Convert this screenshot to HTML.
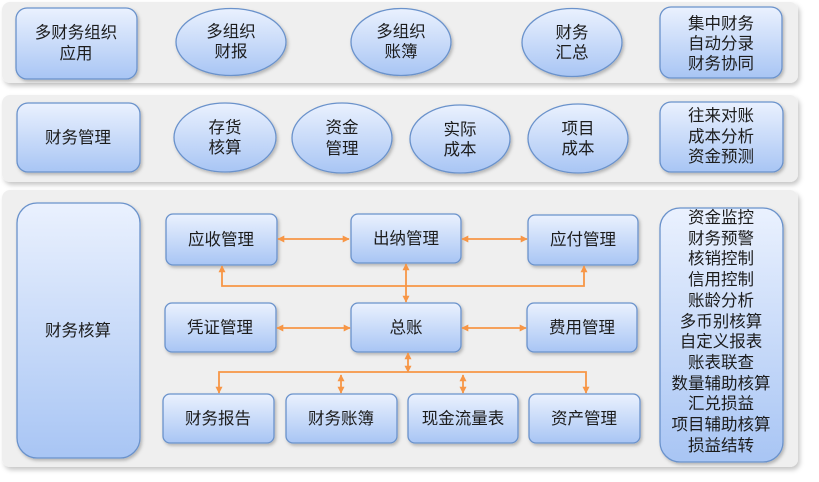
<!DOCTYPE html>
<html><head><meta charset="utf-8">
<style>
html,body{margin:0;padding:0;background:#fff;}
body{width:819px;height:482px;overflow:hidden;}
svg{display:block;}
text{font-family:"Liberation Sans","Noto Sans CJK SC","WenQuanYi Zen Hei",sans-serif;font-size:16.5px;fill:#1c1c1c;text-anchor:middle;dominant-baseline:central;}
</style></head>
<body>
<svg width="819" height="482" viewBox="0 0 819 482" xmlns="http://www.w3.org/2000/svg">
<defs>
  <linearGradient id="g" x1="0" y1="0" x2="0" y2="1">
    <stop offset="0" stop-color="#eaf1fe"/>
    <stop offset="1" stop-color="#a8c5f4"/>
  </linearGradient>
  <filter id="ps" x="-5%" y="-10%" width="110%" height="125%">
    <feDropShadow dx="2" dy="3" stdDeviation="2.5" flood-color="#000" flood-opacity="0.22"/>
  </filter>
  <filter id="bs" x="-10%" y="-10%" width="125%" height="130%">
    <feDropShadow dx="1.5" dy="2" stdDeviation="1.5" flood-color="#000" flood-opacity="0.25"/>
  </filter>
  <marker id="ar" viewBox="0 0 10 10" refX="9" refY="5" markerWidth="7" markerHeight="7" markerUnits="userSpaceOnUse" orient="auto-start-reverse">
    <path d="M0,0 L10,5 L0,10 z" fill="#f79646"/>
  </marker>
</defs>

<!-- panels -->
<rect x="2" y="2" width="796" height="81" rx="8" fill="#efefef" filter="url(#ps)"/>
<rect x="2" y="95" width="796" height="87" rx="8" fill="#efefef" filter="url(#ps)"/>
<rect x="2" y="190" width="796" height="277" rx="8" fill="#efefef" filter="url(#ps)"/>

<g stroke="#6a92cb" stroke-width="1.3" fill="url(#g)" filter="url(#bs)">
  <!-- row 1 -->
  <rect x="16" y="8" width="121" height="71" rx="11"/>
  <ellipse cx="231" cy="42" rx="55" ry="33.5"/>
  <ellipse cx="401" cy="42" rx="50" ry="33.5"/>
  <ellipse cx="572" cy="42.5" rx="50" ry="34"/>
  <rect x="660" y="7" width="122" height="71" rx="11"/>
  <!-- row 2 -->
  <rect x="17" y="103" width="123" height="69" rx="11"/>
  <ellipse cx="225" cy="137.5" rx="51" ry="34.5"/>
  <ellipse cx="342" cy="138" rx="50" ry="35"/>
  <ellipse cx="460" cy="139" rx="50" ry="34"/>
  <ellipse cx="578" cy="138.5" rx="50" ry="34.5"/>
  <rect x="660" y="102" width="123" height="70" rx="11"/>
  <!-- row 3 -->
  <rect x="17" y="203" width="123" height="255" rx="20"/>
  <rect x="166" y="214" width="111" height="51" rx="7"/>
  <rect x="351" y="214" width="110" height="49" rx="7"/>
  <rect x="528" y="215" width="110" height="50" rx="7"/>
  <rect x="165" y="303" width="111" height="49" rx="7"/>
  <rect x="351" y="303" width="110" height="49" rx="7"/>
  <rect x="527" y="303" width="110" height="49" rx="7"/>
  <rect x="163" y="394" width="111" height="49" rx="7"/>
  <rect x="286" y="394" width="111" height="49" rx="7"/>
  <rect x="408" y="394" width="110" height="49" rx="7"/>
  <rect x="529" y="394" width="111" height="49" rx="7"/>
  <rect x="660" y="208" width="123" height="254" rx="20"/>
</g>

<!-- connectors -->
<g stroke="#f79646" stroke-width="1.8" fill="none" marker-start="url(#ar)" marker-end="url(#ar)">
  <path d="M278,239 H349"/>
  <path d="M462,239 H527"/>
  <path d="M222,266 V286 H584 V266"/>
  <path d="M406,264 V302"/>
  <path d="M277,328 H350"/>
  <path d="M462,328 H526"/>
  <path d="M408,353 V372"/>
  <path d="M219,393 V372 H586 V393" marker-start="url(#ar)" marker-end="url(#ar)"/>
  <path d="M341,375 V393"/>
  <path d="M463,375 V393"/>
</g>
<!-- remove arrow mismatch: the long bottom path should not have start/end pointing up; handled by direction -->

<!-- text -->
<text x="76" y="33">多财务组织</text>
<text x="76" y="54">应用</text>
<text x="231" y="32">多组织</text>
<text x="231" y="52">财报</text>
<text x="401" y="32">多组织</text>
<text x="401" y="52">账簿</text>
<text x="572" y="33">财务</text>
<text x="572" y="53">汇总</text>
<text x="721" y="24">集中财务</text>
<text x="721" y="44">自动分录</text>
<text x="721" y="64">财务协同</text>

<text x="78" y="138">财务管理</text>
<text x="225" y="128">存货</text>
<text x="225" y="148">核算</text>
<text x="342" y="128">资金</text>
<text x="342" y="149">管理</text>
<text x="460" y="130">实际</text>
<text x="460" y="150">成本</text>
<text x="578" y="129">项目</text>
<text x="578" y="149">成本</text>
<text x="721" y="116">往来对账</text>
<text x="721" y="137">成本分析</text>
<text x="721" y="157">资金预测</text>

<text x="78" y="331">财务核算</text>
<text x="221" y="240">应收管理</text>
<text x="406" y="239">出纳管理</text>
<text x="583" y="240">应付管理</text>
<text x="220" y="328">凭证管理</text>
<text x="406" y="328">总账</text>
<text x="582" y="328">费用管理</text>
<text x="218" y="419">财务报告</text>
<text x="341" y="419">财务账簿</text>
<text x="463" y="419">现金流量表</text>
<text x="584" y="419">资产管理</text>

<g style="font-size:17px">
<text x="721" y="218">资金监控</text>
<text x="721" y="239">财务预警</text>
<text x="721" y="259">核销控制</text>
<text x="721" y="280">信用控制</text>
<text x="721" y="301">账龄分析</text>
<text x="721" y="322">多币别核算</text>
<text x="721" y="342">自定义报表</text>
<text x="721" y="363">账表联查</text>
<text x="721" y="384">数量辅助核算</text>
<text x="721" y="404">汇兑损益</text>
<text x="721" y="425">项目辅助核算</text>
<text x="721" y="446">损益结转</text>
</g>
</svg>
</body></html>
